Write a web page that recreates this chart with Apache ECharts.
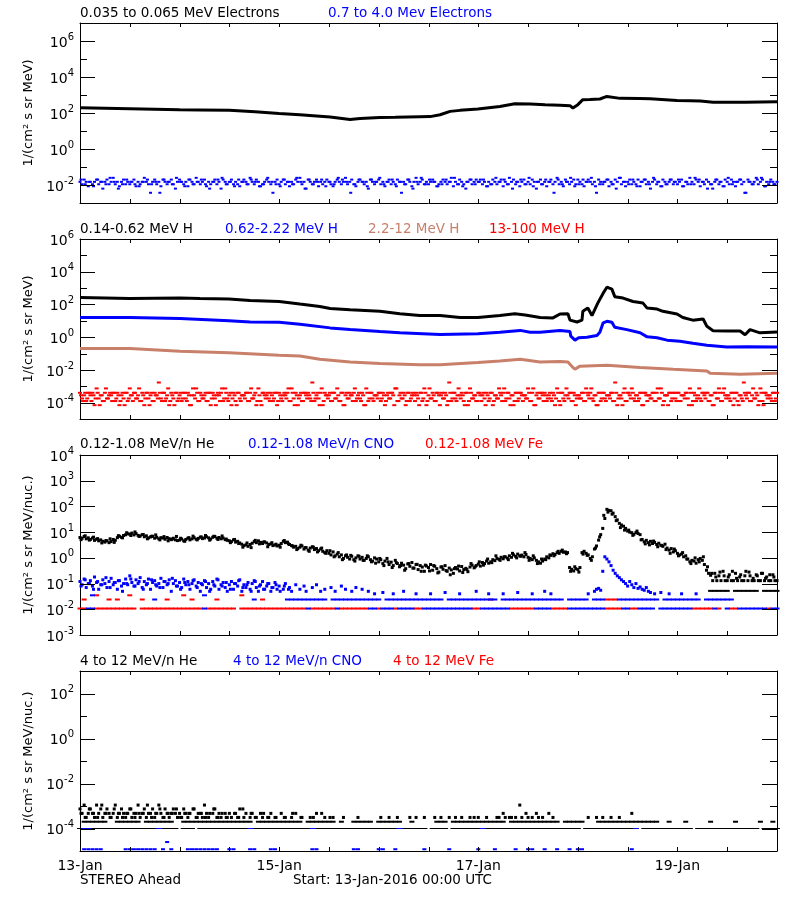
<!DOCTYPE html>
<html><head><meta charset="utf-8">
<script src="https://cdn.jsdelivr.net/npm/echarts@6/dist/echarts.min.js"></script>
<style>html,body{margin:0;padding:0;background:#fff}#c{width:800px;height:900px}</style>
</head><body><div id="c"></div>
<script>
const _ = null;
// ---------- labels ----------
const dayLabels = ['13-Jan','15-Jan','17-Jan','19-Jan'];
const xTickHours = [0,12,24,36,48,60,72,84,96,108,120,132,144,156,168];
const p1Titles = ['0.035 to 0.065 MeV Electrons','0.7 to 4.0 Mev Electrons'];
const p2Titles = ['0.14-0.62 MeV H','0.62-2.22 MeV H','2.2-12 MeV H','13-100 MeV H'];
const p3Titles = ['0.12-1.08 MeV/n He','0.12-1.08 MeV/n CNO','0.12-1.08 MeV Fe'];
const p4Titles = ['4 to 12 MeV/n He','4 to 12 MeV/n CNO','4 to 12 MeV Fe'];
const footLeft = 'STEREO Ahead';
const footMid = 'Start: 13-Jan-2016 00:00 UTC';
const yName1 = '1/(cm\u00b2 s sr MeV)';
const yName2 = '1/(cm\u00b2 s sr MeV/nuc.)';

// ---------- y tick decades ----------
const p1Decades = [1e-3,1e-2,1e-1,1,1e1,1e2,1e3,1e4,1e5,1e6,1e7];
const p1LabelDecades = [1e-2,1,1e2,1e4,1e6];
const p2Decades = [1e-5,1e-4,1e-3,1e-2,1e-1,1,1e1,1e2,1e3,1e4,1e5,1e6];
const p2LabelDecades = [1e-4,1e-2,1,1e2,1e4,1e6];
const p3Decades = [1e-3,1e-2,1e-1,1,1e1,1e2,1e3,1e4];
const p3LabelDecades = [1e-3,1e-2,1e-1,1,1e1,1e2,1e3,1e4];
const p4Decades = [1e-5,1e-4,1e-3,1e-2,1e-1,1,1e1,1e2,1e3];
const p4LabelDecades = [1e-4,1e-2,1,1e2];

// ---------- panel 1: electrons ----------
const p1BlackHours = [0,12,24,28.9,36,42.2,48,53,56.2,60.3,65.1,67.5,72.3,76,81.9,84.4,86.8,89.2,91.6,95.9,101.2,104.8,108.5,112.1,115.7,118.1,118.8,120,121.2,122.9,125.3,127,130.2,134.9,137.4,143.9,147,149.5,152.6,156.7,160.3,168];
const p1BlackVals = [195,173,152,148,140,118,95,80,71,60,44,50,57,58,62,63,80,123,140,166,232,330,315,290,270,255,190,290,550,560,600,835,650,640,620,500,480,465,390,392,390,425];
// half-hourly samples
const p1Blue = [
.015,.011,.02,.015,.0085,.015,.011,.015,.02,.011,.015,.0063,.015,.02,.011,.015,.025,.011,.015,.0085,.015,.02,.011,.015,
.011,.015,.02,.0085,.015,.011,.015,.025,.015,.011,.0037,.015,.02,.011,.015,.0085,.02,.015,.011,.015,.02,.011,.0063,.015,
.02,.015,.011,.015,.0085,.02,.015,.011,.025,.015,.011,.015,.02,.0085,.015,.011,.015,.02,.011,.015,.0063,.02,.015,.011,
.015,.02,.011,.015,.011,.0085,.015,.02,.015,.011,.025,.015,.011,.02,.015,.0085,.011,.015,.02,.015,.011,.0037,.015,.02,
.011,.015,.02,.011,.015,.0085,.015,.011,.02,.015,.025,.011,.015,.0063,.02,.015,.011,.015,.02,.0085,.015,.011,.015,.02,
.015,.011,.0085,.015,.02,.015,.011,.015,.025,.011,.015,.02,.011,.0085,.015,.02,.015,.011,.015,.0063,.02,.015,.011,.015,
.02,.011,.015,.0085,.015,.02,.011,.015,.011,.02,.015,.0037,.015,.011,.02,.015,.0085,.015,.025,.011,.015,.02,.011,.015,
.011,.015,.02,.015,.0085,.011,.015,.02,.015,.011,.015,.025,.0085,.015,.011,.02,.015,.011,.0063,.015,.02,.011,.015,.02,
.015,.02,.011,.015,.0085,.015,.011,.02,.015,.011,.015,.02,.0085,.015,.011,.025,.015,.02,.011,.015,.0085,.015,.02,.011,
.015,.011,.02,.015,.0063,.015,.02,.011,.015,.0085,.015,.02,.011,.015,.025,.011,.015,.0085,.02,.015,.011,.015,.02,.011,
.02,.015,.011,.0085,.015,.02,.015,.011,.015,.0037,.02,.015,.011,.015,.02,.0085,.015,.011,.02,.015,.025,.011,.015,.0085,
.015,.02,.011,.015,.011,.02,.0085,.015,.02,.011,.015,.0063,.015,.02,.011,.015,.0085,.02,.015,.011,.015,.02,.011,.015,
.011,.015,.02,.0085,.015,.011,.025,.015,.011,.02,.015,.0085,.015,.011,.02,.015,.011,.0063,.015,.02,.011,.015,.0085,.02,
.015,.011,.02,.015,.0085,.015,.02,.011,.015,.0037,.02,.015,.011,.015,.025,.011,.015,.02,.0085,.015,.011,.02,.015,.011,
.015];
// hourly samples, taken a quarter hour past
const p1BlueB = [
.02,.011,.015,.0085,.02,.015,.011,.025,.015,.0063,.011,.02,.015,.011,.0085,.015,.02,.011,.015,.0037,.02,.015,.011,.025,
.015,.0085,.02,.011,.015,.02,.011,.0063,.015,.02,.025,.011,.015,.0085,.02,.015,.011,.02,.015,.0085,.011,.025,.015,.011,
.0085,.02,.015,.011,.025,.015,.0063,.02,.011,.015,.02,.0085,.015,.011,.025,.02,.015,.0037,.011,.02,.015,.0085,.02,.015,
.025,.011,.015,.02,.0085,.015,.011,.02,.0063,.015,.025,.011,.02,.015,.0085,.011,.02,.015,.025,.011,.0085,.015,.02,.011,
.015,.02,.0085,.011,.025,.015,.02,.011,.0063,.015,.02,.011,.025,.0085,.015,.011,.02,.015,.0037,.02,.011,.015,.025,.0085,
.011,.02,.015,.025,.0085,.011,.015,.02,.011,.0063,.025,.015,.011,.02,.0085,.015,.02,.011,.025,.015,.0085,.011,.02,.015,
.02,.0085,.015,.011,.025,.02,.015,.0063,.011,.02,.015,.0085,.025,.011,.015,.02,.0037,.015,.011,.02,.025,.0085,.015,.011,
.02];

// ---------- panel 2: protons ----------
const p2BlackHours = [0,12,24.1,28.9,35.9,41,48,53,57.8,60.3,65.1,72.3,77.1,81.9,86.8,91.6,95.9,101.2,104.8,107.3,110.9,114,115.7,117.6,118.1,119.8,121,121.2,122.4,123.4,124.8,126.1,127,128.2,128.9,130.9,133.3,135.7,136.7,139.1,140.5,143.9,145.3,147.7,150.2,151.1,152.6,155.9,159.1,160.3,161.5,163.9,168];
const p2BlackVals = [265,230,245,230,213,174,152,105,76,57,48,38,27,21,21,16,16,21,27,23,16,15,26,27,11,8.5,11,38,60,21,121,490,1130,860,300,245,152,121,60,52,38,26,16,11,13,4.6,2.5,2.4,2.4,1.4,2.9,1.85,2.1];
const p2BlueHours = [0,12,24.1,35.9,41,48,53,60.3,65.1,72.3,77.1,86.8,95.9,101.2,106.1,108.5,110.9,115.7,118.1,118.3,119.3,120.2,122.2,124.6,125.3,126.1,127,128.2,128.9,131.8,135,136.7,139.1,141.5,144.6,147.7,151.1,155.9,160.7,168];
const p2BlueVals = [16,16,14,10,8.6,8.1,6.2,3.7,2.9,2.2,1.85,1.45,1.6,2.0,2.6,2.0,2.0,2.6,2.2,1.15,0.66,0.92,1.0,1.27,2.0,7.5,9.3,8.1,4,2.9,1.85,1.05,0.92,0.66,0.57,0.42,0.32,0.25,0.26,0.25];
const p2BrownHours = [0,12,24.1,35.9,48,53,57.8,65.1,72.3,81.9,86.8,95.9,101.2,106.1,110.9,115.7,117.6,118.6,119.3,120.5,127,135,143,151.1,151.9,159.1,168];
const p2BrownVals = [0.2,0.2,0.14,0.11,0.078,0.07,0.045,0.03,0.025,0.021,0.021,0.028,0.035,0.045,0.03,0.033,0.03,0.016,0.011,0.017,0.019,0.014,0.011,0.0087,0.0063,0.0055,0.0063];
// hourly samples at :00, :30, :15 and :45
const p2RedA = [
4e-4,2.8e-4,4e-4,4e-4,7.4e-4,2.8e-4,4e-4,2.8e-4,4e-4,4e-4,2.8e-4,4e-4,7.4e-4,4e-4,2.8e-4,4e-4,4e-4,2.8e-4,4e-4,1.7e-3,4e-4,2.8e-4,4e-4,4e-4,
2.8e-4,4e-4,4e-4,2.8e-4,7.4e-4,4e-4,2.8e-4,4e-4,4e-4,2.8e-4,4e-4,7.4e-4,2.8e-4,4e-4,4e-4,2.8e-4,4e-4,4e-4,2.8e-4,7.4e-4,4e-4,2.8e-4,4e-4,4e-4,
4e-4,2.8e-4,4e-4,7.4e-4,4e-4,2.8e-4,4e-4,4e-4,1.7e-3,2.8e-4,4e-4,4e-4,2.8e-4,4e-4,7.4e-4,4e-4,2.8e-4,4e-4,4e-4,2.8e-4,4e-4,7.4e-4,4e-4,2.8e-4,
4e-4,4e-4,2.8e-4,4e-4,7.4e-4,2.8e-4,4e-4,4e-4,2.8e-4,4e-4,4e-4,7.4e-4,2.8e-4,4e-4,4e-4,2.8e-4,4e-4,1.7e-3,4e-4,2.8e-4,4e-4,4e-4,7.4e-4,2.8e-4,
4e-4,2.8e-4,4e-4,4e-4,2.8e-4,7.4e-4,4e-4,4e-4,2.8e-4,4e-4,4e-4,2.8e-4,7.4e-4,4e-4,2.8e-4,4e-4,4e-4,2.8e-4,4e-4,7.4e-4,4e-4,2.8e-4,4e-4,4e-4,
2.8e-4,4e-4,7.4e-4,4e-4,2.8e-4,4e-4,4e-4,2.8e-4,4e-4,1.7e-3,2.8e-4,4e-4,4e-4,7.4e-4,2.8e-4,4e-4,4e-4,2.8e-4,4e-4,4e-4,7.4e-4,2.8e-4,4e-4,4e-4,
4e-4,2.8e-4,4e-4,7.4e-4,4e-4,2.8e-4,4e-4,4e-4,2.8e-4,4e-4,7.4e-4,4e-4,2.8e-4,4e-4,4e-4,2.8e-4,1.7e-3,4e-4,2.8e-4,4e-4,7.4e-4,4e-4,2.8e-4,4e-4,
4e-4];
const p2RedB = [
1.8e-4,1.25e-4,2.8e-4,7e-5,1.8e-4,1.25e-4,1.8e-4,2.8e-4,1.25e-4,7e-5,1.8e-4,1.25e-4,2.8e-4,1.8e-4,1.25e-4,7e-5,1.8e-4,1.25e-4,2.8e-4,1.8e-4,1.25e-4,7e-5,1.8e-4,1.25e-4,
1.25e-4,1.8e-4,7e-5,2.8e-4,1.25e-4,1.8e-4,1.25e-4,7e-5,1.8e-4,2.8e-4,1.25e-4,1.8e-4,7e-5,1.25e-4,1.8e-4,2.8e-4,1.25e-4,1.8e-4,7e-5,1.25e-4,2.8e-4,1.8e-4,1.25e-4,7e-5,
1.8e-4,2.8e-4,1.25e-4,1.8e-4,7e-5,1.25e-4,2.8e-4,1.8e-4,1.25e-4,1.8e-4,7e-5,2.8e-4,1.25e-4,1.8e-4,1.25e-4,7e-5,1.8e-4,2.8e-4,1.25e-4,1.8e-4,7e-5,1.25e-4,1.8e-4,2.8e-4,
1.25e-4,7e-5,1.8e-4,2.8e-4,1.25e-4,1.8e-4,7e-5,1.25e-4,2.8e-4,1.8e-4,1.25e-4,7e-5,1.8e-4,1.25e-4,2.8e-4,1.8e-4,7e-5,1.25e-4,1.8e-4,2.8e-4,1.25e-4,7e-5,1.8e-4,1.25e-4,
2.8e-4,1.8e-4,1.25e-4,7e-5,1.8e-4,2.8e-4,1.25e-4,1.8e-4,7e-5,1.25e-4,2.8e-4,1.8e-4,1.25e-4,7e-5,1.8e-4,2.8e-4,1.25e-4,1.8e-4,7e-5,1.25e-4,1.8e-4,2.8e-4,1.25e-4,7e-5,
1.8e-4,1.25e-4,2.8e-4,1.8e-4,7e-5,1.25e-4,1.8e-4,2.8e-4,1.25e-4,7e-5,1.8e-4,1.25e-4,2.8e-4,1.8e-4,1.25e-4,7e-5,2.8e-4,1.8e-4,1.25e-4,1.8e-4,7e-5,2.8e-4,1.25e-4,1.8e-4,
1.25e-4,2.8e-4,1.8e-4,7e-5,1.25e-4,1.8e-4,2.8e-4,1.25e-4,7e-5,1.8e-4,1.25e-4,2.8e-4,1.8e-4,7e-5,1.25e-4,1.8e-4,2.8e-4,1.25e-4,1.8e-4,7e-5,1.25e-4,2.8e-4,1.8e-4,1.25e-4,
1.8e-4];
const p2RedC = [
2.8e-4,4e-4,4e-4,2.8e-4,4e-4,2.8e-4,7.4e-4,4e-4,4e-4,2.8e-4,4e-4,4e-4,2.8e-4,4e-4,7.4e-4,2.8e-4,4e-4,4e-4,2.8e-4,4e-4,4e-4,7.4e-4,2.8e-4,4e-4,
4e-4,4e-4,2.8e-4,7.4e-4,4e-4,2.8e-4,4e-4,4e-4,2.8e-4,4e-4,7.4e-4,4e-4,4e-4,2.8e-4,4e-4,2.8e-4,4e-4,7.4e-4,4e-4,2.8e-4,4e-4,4e-4,2.8e-4,4e-4,
2.8e-4,4e-4,7.4e-4,4e-4,2.8e-4,4e-4,4e-4,2.8e-4,4e-4,4e-4,7.4e-4,2.8e-4,4e-4,4e-4,2.8e-4,4e-4,4e-4,2.8e-4,7.4e-4,4e-4,2.8e-4,4e-4,4e-4,2.8e-4,
4e-4,2.8e-4,4e-4,4e-4,7.4e-4,4e-4,2.8e-4,4e-4,4e-4,2.8e-4,4e-4,4e-4,7.4e-4,2.8e-4,4e-4,4e-4,2.8e-4,4e-4,4e-4,7.4e-4,2.8e-4,4e-4,4e-4,2.8e-4,
4e-4,4e-4,2.8e-4,4e-4,2.8e-4,4e-4,7.4e-4,4e-4,2.8e-4,4e-4,4e-4,2.8e-4,4e-4,7.4e-4,4e-4,4e-4,2.8e-4,4e-4,2.8e-4,4e-4,4e-4,7.4e-4,4e-4,2.8e-4,
2.8e-4,4e-4,4e-4,7.4e-4,2.8e-4,4e-4,4e-4,2.8e-4,4e-4,4e-4,2.8e-4,7.4e-4,4e-4,4e-4,2.8e-4,4e-4,4e-4,2.8e-4,4e-4,7.4e-4,4e-4,2.8e-4,4e-4,4e-4,
4e-4,2.8e-4,4e-4,4e-4,2.8e-4,7.4e-4,4e-4,4e-4,2.8e-4,4e-4,4e-4,7.4e-4,2.8e-4,4e-4,4e-4,2.8e-4,4e-4,4e-4,7.4e-4,2.8e-4,4e-4,4e-4,2.8e-4,4e-4,
2.8e-4];
const p2RedD = [
1.25e-4,1.8e-4,1.25e-4,1.8e-4,7e-5,1.25e-4,1.8e-4,1.25e-4,1.8e-4,1.25e-4,7e-5,1.8e-4,1.25e-4,1.8e-4,1.25e-4,1.8e-4,7e-5,1.25e-4,1.8e-4,1.25e-4,1.8e-4,1.25e-4,7e-5,1.8e-4,
1.8e-4,1.25e-4,7e-5,1.8e-4,1.25e-4,1.8e-4,1.25e-4,1.8e-4,7e-5,1.25e-4,1.8e-4,1.25e-4,1.8e-4,7e-5,1.25e-4,1.8e-4,1.25e-4,1.8e-4,1.25e-4,7e-5,1.8e-4,1.25e-4,1.8e-4,1.25e-4,
1.25e-4,1.8e-4,1.25e-4,7e-5,1.8e-4,1.25e-4,1.8e-4,1.25e-4,1.8e-4,7e-5,1.25e-4,1.8e-4,1.25e-4,1.8e-4,1.25e-4,7e-5,1.8e-4,1.25e-4,1.8e-4,1.25e-4,7e-5,1.8e-4,1.25e-4,1.8e-4,
1.8e-4,1.25e-4,1.8e-4,7e-5,1.25e-4,1.8e-4,1.25e-4,1.8e-4,1.25e-4,7e-5,1.8e-4,1.25e-4,1.8e-4,1.25e-4,7e-5,1.8e-4,1.25e-4,1.8e-4,1.25e-4,1.8e-4,7e-5,1.25e-4,1.8e-4,1.25e-4,
1.25e-4,7e-5,1.8e-4,1.25e-4,1.8e-4,1.25e-4,1.8e-4,7e-5,1.25e-4,1.8e-4,1.25e-4,1.8e-4,1.25e-4,7e-5,1.8e-4,1.25e-4,1.8e-4,1.25e-4,1.8e-4,7e-5,1.25e-4,1.8e-4,1.25e-4,1.8e-4,
1.8e-4,1.25e-4,1.8e-4,1.25e-4,7e-5,1.8e-4,1.25e-4,1.8e-4,1.25e-4,1.8e-4,7e-5,1.25e-4,1.8e-4,1.25e-4,1.8e-4,7e-5,1.25e-4,1.8e-4,1.25e-4,1.8e-4,1.25e-4,7e-5,1.8e-4,1.25e-4,
1.25e-4,1.8e-4,7e-5,1.25e-4,1.8e-4,1.25e-4,1.8e-4,1.25e-4,7e-5,1.8e-4,1.25e-4,1.8e-4,1.25e-4,1.8e-4,7e-5,1.25e-4,1.8e-4,1.25e-4,1.8e-4,1.25e-4,7e-5,1.8e-4,1.25e-4,1.8e-4,
1.25e-4];

// ---------- panel 3: 0.12-1.08 MeV/n heavy ions ----------
// He, half-hourly
const p3He = [
6.2,5.8,6.8,5.5,6.0,5.2,5.9,4.8,5.3,4.6,5.0,4.4,4.1,4.6,3.9,4.3,5.2,4.8,6.1,6.9,6.3,7.4,7.9,8.6,
8.4,9.2,7.8,8.8,7.5,7.1,8.0,6.6,7.2,6.0,6.5,6.9,5.8,6.3,5.5,6.1,5.9,5.3,6.2,5.6,5.1,5.8,5.0,4.7,
4.9,5.4,4.6,5.2,5.8,5.0,5.5,6.1,5.3,5.7,6.4,5.6,5.9,6.6,6.0,5.4,6.3,6.8,5.8,6.2,5.5,5.9,5.1,4.8,
4.6,4.3,5.0,4.1,4.4,3.8,3.4,3.0,3.2,2.8,3.3,3.7,4.3,3.9,4.6,4.0,3.6,4.2,3.8,3.3,3.5,3.0,3.2,2.9,
3.1,3.6,4.4,3.9,4.1,3.3,3.0,2.6,2.8,2.3,2.6,2.9,2.2,2.5,2.0,2.4,2.7,2.1,2.3,1.9,2.2,1.8,1.6,1.9,
1.5,1.3,1.7,1.2,1.4,1.1,1.3,0.95,1.2,1.05,0.9,1.15,0.85,1.0,1.2,0.9,1.05,0.8,0.95,1.1,0.85,0.75,1.0,0.9,
0.7,0.85,0.6,0.75,0.95,0.55,0.68,0.5,0.8,0.6,0.45,0.62,0.52,0.38,0.58,0.47,0.66,0.4,0.55,0.35,0.5,0.44,0.3,0.48,
0.42,0.55,0.33,0.47,0.38,0.28,0.44,0.36,0.5,0.3,0.4,0.34,0.25,0.42,0.37,0.31,0.46,0.35,0.39,0.29,0.44,0.52,0.41,0.5,
0.57,0.48,0.66,0.6,0.75,0.62,0.7,0.85,0.78,0.95,0.88,1.05,0.92,1.1,0.98,1.2,1.05,1.3,1.15,1.4,1.2,1.28,1.1,1.35,
1.05,0.95,0.85,1.0,0.8,0.7,0.62,0.75,0.9,1.1,1.0,1.25,1.45,1.35,1.6,1.5,1.8,1.65,1.7,1.6,0.42,0.36,0.31,0.38,
0.35,0.42,1.6,1.8,1.5,1.3,0.95,1.1,2.2,2.9,4.9,8,14,34,77,70,68,55,40,30,22,19,17,14,
11,10,9.5,8.2,9.6,8.9,8.0,5.2,4.2,4.8,3.9,4.4,3.6,4.0,3.3,3.7,3.1,2.8,3.4,2.4,2.0,2.3,1.7,1.9,
1.5,1.3,1.4,1.1,1.2,0.9,0.7,0.8,0.75,0.62,0.85,0.95,0.8,0.55,0.33,0.25,0.21,0.13,0.25,0.13,0.2,0.13,0.3,0.13,
0.13,0.22,0.13,0.13,0.25,0.13,0.18,0.13,0.13,0.3,0.13,0.2,0.13,0.13,0.22,0.13,0.13,0.25,0.13,0.18,0.13,0.13,0.22,0.13,
0.13];
// He, hourly at a quarter past (extra spread of the cloud)
const p3HeB = [
5.1,7.2,4.9,6.4,5.6,3.8,4.7,5.5,4.0,7.3,6.0,9.5,
7.4,10.2,6.8,8.1,5.5,6.9,7.8,5.0,6.7,4.6,5.4,6.8,
5.8,4.4,6.1,7.0,5.0,6.5,7.4,4.9,6.9,5.2,7.1,5.4,
3.9,5.2,3.6,2.6,3.8,2.5,4.8,3.5,4.1,2.7,3.9,3.4,
2.6,4.7,3.5,2.9,2.1,3.1,2.5,1.8,2.6,1.7,2.4,1.5,
1.9,1.1,1.6,0.85,1.3,1.25,0.75,1.15,0.8,1.2,0.7,0.62,
0.95,0.5,0.7,0.42,0.65,0.5,0.33,0.6,0.4,0.56,0.3,0.52,
0.31,0.5,0.26,0.45,0.32,0.22,0.38,0.48,0.27,0.35,0.6,0.45,
0.7,0.52,0.9,0.65,1.2,0.8,1.1,0.85,1.5,1.0,1.15,1.6,
0.8,1.2,0.6,0.9,0.85,1.3,1.2,1.8,2.0,1.45,0.3,0.45,
0.28,1.4,1.25,0.8,2.4,6.5,45,60,50,28,15,12,
12,7.5,11,5.0,3.5,3.2,4.5,2.7,3.0,2.1,1.5,2.2,
1.2,1.6,0.9,0.6,1.0,0.7,1.1,0.45,0.25,0.18,0.28,0.2,
0.18,0.3,0.16,0.22,0.2,0.28,0.16,0.2,0.25,0.16,0.22,0.18,0.2];
const p3HeTailHours = [152,153,154,155,156,158,159,160,161,162,163,165,166,167,168];
const p3HeTailVals = [.052,.052,.052,.052,.052,.052,.052,.052,.052,.052,.052,.052,.052,.052,.052];
// CNO, half-hourly
const p3Cno = [
.12,.09,.15,.07,.1,.13,.08,.18,.11,.06,.09,.14,.1,.07,.12,.16,.09,.11,.06,.13,.08,.1,.15,.09,
.2,.11,.08,.14,.1,.17,.07,.12,.09,.15,.06,.11,.13,.08,.1,.16,.07,.12,.09,.14,.05,.1,.13,.08,
.11,.07,.15,.09,.12,.06,.1,.14,.08,.11,.05,.09,.13,.07,.1,.06,.12,.08,.15,.06,.09,.11,.07,.05,
.09,.12,.06,.1,.08,.14,.05,.09,.07,.11,.06,.1,.13,.07,.05,.09,.12,.06,.08,.1,.05,.07,.11,.06,
.08,_,.06,.1,_,.07,.05,_,.09,_,.06,_,.08,.05,_,_,.07,_,.09,_,.05,_,.06,_,
_,.07,_,.05,_,_,.08,_,.06,_,_,.05,_,.07,_,_,.06,_,_,.05,_,_,.04,_,
_,_,.045,_,_,_,_,.04,_,_,_,_,.05,_,_,_,_,_,.04,_,_,_,_,_,
_,.04,_,_,_,_,_,_,.045,_,_,_,_,_,_,.04,_,_,_,_,_,_,_,.05,
_,_,_,_,_,.04,_,_,_,_,_,_,.04,_,_,_,_,_,_,.045,_,_,_,_,
_,_,.04,_,_,_,_,_,.05,_,_,.04,_,_,_,_,_,_,_,_,_,_,_,_,
_,_,_,_,_,.04,_,_,.05,.06,.065,.055,.3,1.1,.9,.7,.5,.33,.25,.2,.17,.14,.12,.1,
.08,.12,.09,.07,.1,.065,.074,.06,.055,.07,.05,.045,_,.04,_,_,.045,_,_,_,.04,_,_,_,
_,_,.04,_,_,_,_,_,_,.04];
// CNO, hourly at a quarter past (first 50 hours)
const p3CnoB = [
.08,.14,.1,.06,.12,.09,.17,.07,.11,.13,.05,.1,.15,.08,.12,.06,.1,.14,.09,.07,.12,.1,.16,.08,
.06,.11,.09,.13,.07,.1,.12,.05,.09,.14,.08,.11,.06,.1,.13,.07,.09,.05,.12,.08,.06,.1,.07,.09,
.05,.08,.06];
// hourly rows (Fe red / CNO blue)
const p3FeLow = [
.0107,.0107,_,_,.0107,.0107,.0107,.0107,.0107,.0107,.0107,.0107,.0107,.0107,_,.0107,.0107,.0107,.0107,.0107,.0107,.0107,.0107,.0107,
.0107,.0107,.0107,.0107,.0107,.0107,_,.0107,.0107,.0107,.0107,.0107,.0107,.0107,_,.0107,.0107,.0107,.0107,.0107,.0107,.0107,.0107,.0107,
.0107,.0107,.0107,.0107,.0107,.0107,.0107,_,.0107,.0107,.0107,.0107,.0107,.0107,_,.0107,.0107,.0107,.0107,.0107,.0107,.0107,_,_,
.0107,_,_,_,.0107,_,_,_,_,.0107,.0107,_,_,_,_,_,_,_,_,_,_,_,_,.0107,
.0107,_,_,_,_,_,_,_,.0107,.0107,.0107,.0107,.0107,.0107,_,_,_,_,.0107,.0107,.0107,.0107,_,_,
_,_,_,_,_,_,_,.0107,.0107,.0107,.0107,_,_,.0107,.0107,_,_,_,_,_,_,_,_,_,
_,_,_,_,.0107,.0107,.0107,.0107,.0107,_,.0107,_,_,.0107,.0107,_,_,_,_,_,_,_,.0107,_,_];
const p3CnoLow = [
_,_,.0107,.0107,_,_,_,_,_,_,_,_,_,_,_,_,_,_,_,_,_,_,_,_,
_,_,_,_,_,_,.0107,_,_,_,_,_,_,_,_,_,_,_,_,_,_,_,_,_,
_,_,_,_,_,_,_,.0107,_,_,_,_,_,_,.0107,_,_,_,_,_,_,_,.0107,.0107,
_,.0107,.0107,.0107,_,.0107,.0107,.0107,.0107,_,_,.0107,.0107,.0107,.0107,.0107,.0107,.0107,.0107,.0107,.0107,.0107,.0107,_,
_,.0107,.0107,.0107,.0107,.0107,.0107,.0107,_,_,_,_,_,_,.0107,.0107,.0107,.0107,_,_,_,_,.0107,.0107,
.0107,.0107,.0107,.0107,.0107,.0107,.0107,_,_,_,_,.0107,.0107,_,_,.0107,.0107,.0107,.0107,_,.0107,.0107,.0107,.0107,
.0107,.0107,.0107,.0107,_,_,_,_,_,.0107,_,_,.0107,_,_,.0107,.0107,.0107,.0107,.0107,.0107,.0107,_,.0107,.0107];
const p3FeMid = [
_,.024,_,_,.035,_,_,.024,_,.024,_,_,.035,_,_,.024,_,_,_,_,_,.024,_,_,
_,.035,_,.024,_,_,_,_,_,.024,_,_,_,_,_,.035,_,_,_,_,.024,_,_,_,
_,_,_,_,_,_,_,_,_,_,_,_,_,_,_,_,_,_,_,_,_,_,_,_,
_,_,_,_,_,_,_,_,_,_,_,_,_,_,_,_,_,_,_,_,_,_,_,_,
_,_,_,.024,_,_,_,_,_,_,_,_,_,_,_,_,_,_,_,_,_,_,_,_,
_,_,_,_,_,_,_,.024,.024,.024];
const p3CnoMid = [
_,_,_,.035,_,_,_,_,_,_,_,_,_,_,_,_,_,_,.024,_,_,_,_,_,
_,_,_,_,_,_,.035,_,_,_,_,_,_,_,_,_,_,_,.024,_,_,_,_,_,
_,_,.024,.024,.024,.024,.024,.024,.024,.024,.024,.024,_,.024,.024,.024,.024,.024,.024,.024,.024,.024,.024,.024,
.024,_,.024,.024,.024,.024,.024,.024,.024,.024,.024,.024,.024,.024,.024,.024,_,.024,.024,.024,.024,.024,.024,.024,
.024,.024,.024,.024,.024,_,.024,.024,.024,.024,.024,.024,.024,.024,.024,.024,.024,.024,.024,.024,.024,_,.024,.024,
.024,.024,.024,_,.024,.024,.024,_,_,_,.024,.024,.024,.024,.024,.024,.024,.024,.024,.024,_,.024,.024,.024,
.024,.024,.024,.024,.024,.024,_,.024,.024,.024,.024,.024,.024,.024];

// ---------- panel 4: 4-12 MeV/n heavy ions ----------
// He, half-hourly
const p4HeA = [
7.4e-4,4.7e-4,1.1e-3,3.1e-4,4.7e-4,7.4e-4,4.7e-4,3.1e-4,1.1e-3,4.7e-4,7.4e-4,3.1e-4,4.7e-4,7.4e-4,4.7e-4,3.1e-4,4.7e-4,1.1e-3,3.1e-4,4.7e-4,7.4e-4,4.7e-4,3.1e-4,4.7e-4,
7.4e-4,3.1e-4,4.7e-4,4.7e-4,1.1e-3,3.1e-4,4.7e-4,7.4e-4,3.1e-4,4.7e-4,4.7e-4,7.4e-4,3.1e-4,4.7e-4,1.1e-3,4.7e-4,3.1e-4,7.4e-4,4.7e-4,3.1e-4,4.7e-4,7.4e-4,4.7e-4,3.1e-4,
4.7e-4,3.1e-4,7.4e-4,4.7e-4,3.1e-4,4.7e-4,_,7.4e-4,3.1e-4,4.7e-4,4.7e-4,3.1e-4,1.1e-3,4.7e-4,3.1e-4,_,4.7e-4,7.4e-4,3.1e-4,4.7e-4,3.1e-4,_,4.7e-4,3.1e-4,
4.7e-4,3.1e-4,_,4.7e-4,3.1e-4,7.4e-4,_,3.1e-4,4.7e-4,_,3.1e-4,4.7e-4,_,3.1e-4,_,4.7e-4,3.1e-4,_,_,3.1e-4,4.7e-4,_,3.1e-4,_,
_,4.7e-4,_,3.1e-4,_,_,3.1e-4,_,4.7e-4,_,_,3.1e-4,_,_,_,3.1e-4,_,_,4.7e-4,_,_,_,3.1e-4,_,
_,_,3.1e-4,_,_,_,_,3.1e-4,_,_,_,_,_,_,3.1e-4,_,_,_,_,_,_,_,_,_,
_,3.1e-4,_,_,_,3.1e-4,_,_,_,3.1e-4,_,_,_,_,_,3.1e-4,_,_,3.1e-4,_,_,_,3.1e-4,_,
_,_,_,3.1e-4,_,_,3.1e-4,_,_,_,3.1e-4,_,_,3.1e-4,_,_,3.1e-4,_,_,_,3.1e-4,_,3.1e-4,_,
3.1e-4,_,_,_,3.1e-4,_,_,_,_,3.1e-4,3.1e-4,_,4.7e-4,3.1e-4,_,3.1e-4,3.1e-4,_,3.1e-4,_,1.1e-3,3.1e-4,_,4.7e-4,
3.1e-4,_,3.1e-4,_,4.7e-4,3.1e-4,_,3.1e-4,_,_,4.7e-4,_,3.1e-4,_,_,_,_,_,_,_,_,_,_,_,
_,_,_,_,_,3.1e-4,_,_,_,3.1e-4,_,_,3.1e-4,_,_,_,3.1e-4,_,_,_,3.1e-4,_,_,_,
_,_,4.7e-4];
// He, hourly at a quarter past (first 60 hours)
const p4HeC = [
4.7e-4,3.1e-4,7.4e-4,4.7e-4,3.1e-4,1.1e-3,4.7e-4,3.1e-4,7.4e-4,4.7e-4,3.1e-4,4.7e-4,7.4e-4,3.1e-4,4.7e-4,4.7e-4,1.1e-3,3.1e-4,4.7e-4,7.4e-4,3.1e-4,4.7e-4,4.7e-4,7.4e-4,
3.1e-4,4.7e-4,4.7e-4,7.4e-4,3.1e-4,4.7e-4,3.1e-4,4.7e-4,7.4e-4,3.1e-4,4.7e-4,3.1e-4,_,4.7e-4,3.1e-4,7.4e-4,_,4.7e-4,3.1e-4,_,4.7e-4,3.1e-4,_,3.1e-4,
_,3.1e-4,_,4.7e-4,_,3.1e-4,_,_,3.1e-4,_,4.7e-4,_,3.1e-4];
// He, hourly
const p4HeB = [
_,2e-4,2e-4,2e-4,2e-4,2e-4,2e-4,_,_,2e-4,2e-4,2e-4,2e-4,2e-4,2e-4,_,2e-4,2e-4,2e-4,2e-4,2e-4,2e-4,2e-4,_,
_,2e-4,2e-4,2e-4,2e-4,2e-4,2e-4,2e-4,2e-4,2e-4,2e-4,2e-4,2e-4,2e-4,2e-4,2e-4,2e-4,2e-4,_,2e-4,2e-4,2e-4,2e-4,2e-4,
2e-4,2e-4,2e-4,2e-4,2e-4,2e-4,_,2e-4,2e-4,2e-4,2e-4,2e-4,2e-4,2e-4,_,2e-4,_,_,2e-4,2e-4,2e-4,2e-4,2e-4,_,
2e-4,2e-4,2e-4,2e-4,2e-4,2e-4,_,_,2e-4,_,_,_,_,_,2e-4,2e-4,2e-4,_,2e-4,2e-4,2e-4,2e-4,2e-4,2e-4,
2e-4,2e-4,2e-4,2e-4,2e-4,2e-4,2e-4,_,2e-4,2e-4,2e-4,2e-4,2e-4,2e-4,2e-4,2e-4,2e-4,2e-4,2e-4,2e-4,_,2e-4,2e-4,2e-4,
2e-4,2e-4,_,_,_,2e-4,2e-4,2e-4,2e-4,2e-4,2e-4,2e-4,2e-4,2e-4,2e-4,2e-4,2e-4,2e-4,2e-4,2e-4,_,_,2e-4,_,
_,_,2e-4,_,_,_,_,_,2e-4,_,_,_,_,_,2e-4,_,_,_,_,_,2e-4,_,_,2e-4,_];
const p4HeRow = [
1e-4,1e-4,1e-4,1e-4,1e-4,1e-4,1e-4,1e-4,1e-4,1e-4,1e-4,1e-4,1e-4,1e-4,1e-4,1e-4,1e-4,1e-4,1e-4,1e-4,1e-4,1e-4,1e-4,1e-4,
_,1e-4,1e-4,1e-4,_,1e-4,1e-4,1e-4,1e-4,1e-4,1e-4,1e-4,1e-4,1e-4,1e-4,1e-4,1e-4,1e-4,1e-4,1e-4,1e-4,1e-4,1e-4,1e-4,
1e-4,1e-4,1e-4,1e-4,1e-4,1e-4,1e-4,1e-4,1e-4,1e-4,1e-4,1e-4,1e-4,1e-4,1e-4,1e-4,1e-4,1e-4,1e-4,1e-4,1e-4,1e-4,1e-4,1e-4,
1e-4,1e-4,1e-4,1e-4,1e-4,1e-4,1e-4,1e-4,1e-4,1e-4,1e-4,1e-4,_,1e-4,1e-4,1e-4,1e-4,_,1e-4,1e-4,1e-4,1e-4,1e-4,1e-4,
1e-4,1e-4,1e-4,1e-4,1e-4,1e-4,1e-4,1e-4,1e-4,1e-4,1e-4,1e-4,1e-4,1e-4,1e-4,1e-4,1e-4,1e-4,1e-4,1e-4,1e-4,1e-4,1e-4,1e-4,
1e-4,_,1e-4,1e-4,1e-4,1e-4,1e-4,1e-4,1e-4,1e-4,1e-4,1e-4,1e-4,1e-4,1e-4,_,1e-4,1e-4,1e-4,1e-4,1e-4,1e-4,1e-4,1e-4,
1e-4,1e-4,1e-4,1e-4,_,1e-4,1e-4,1e-4,1e-4,1e-4,1e-4,1e-4,1e-4,1e-4,1e-4,1e-4,1e-4,1e-4,1e-4,1e-4,_,1e-4,1e-4,1e-4,1e-4];
const p4CnoRowHours = [1,2,19,41,56,77,97,134];
const p4CnoRowVals = [1e-4,1e-4,1e-4,1e-4,1e-4,1e-4,1e-4,1e-4];
// CNO, hourly
const p4CnoLow = [
_,1.2e-5,1.2e-5,1.2e-5,1.2e-5,1.2e-5,_,_,_,_,_,1.2e-5,1.2e-5,1.2e-5,1.2e-5,1.2e-5,1.2e-5,1.2e-5,1.2e-5,_,1.2e-5,2.5e-5,1.2e-5,_,
_,_,1.2e-5,1.2e-5,1.2e-5,1.2e-5,1.2e-5,1.2e-5,1.2e-5,1.2e-5,_,_,1.2e-5,1.2e-5,_,_,_,1.2e-5,1.2e-5,_,_,_,1.2e-5,1.2e-5,
_,_,_,_,_,_,_,_,1.2e-5,1.2e-5,_,_,_,_,_,_,_,_,1.2e-5,1.2e-5,_,_,_,_,
1.2e-5,1.2e-5,_,_,1.2e-5,_,_,_,_,_,_,1.2e-5,_,_,_,_,_,1.2e-5,_,_,_,_,_,_,
1.2e-5,_,_,_,1.2e-5,_,_,_,_,1.2e-5,_,_,1.2e-5,1.2e-5,_,_,1.2e-5,_,_,1.2e-5,_,_,1.2e-5,_,
1.2e-5,1.2e-5,_,_,_,_,_,_,_,_,_,_,_,1.2e-5];

// ---------- styling ----------
const FONT = 'DejaVu Sans';
const BLACK = '#000000', BLUE = '#0000ff', RED = '#ff0000', BROWN = '#c8806a';
const GRID_TOPS = [23, 239, 455, 671];
const GRID_H = 180;
const Y_RANGES = [[1e-3,1e7],[1e-5,1e6],[1e-3,1e4],[1e-5,1e3]];
const decades = [p1Decades, p2Decades, p3Decades, p4Decades];
const labelDecades = [p1LabelDecades, p2LabelDecades, p3LabelDecades, p4LabelDecades];
const yNames = [yName1, yName1, yName2, yName2];

function halfHourly(vals){ return vals.map((v,i)=>[i*0.5, v]).filter(p=>p[1]!==null); }
function hourly(vals, off){ return vals.map((v,i)=>[i+(off||0), v]).filter(p=>p[1]!==null); }
function pairs(h, v){ return h.map((x,i)=>[x, v[i]]); }

const grid = GRID_TOPS.map(t => ({left:80, width:697, top:t, height:GRID_H, containLabel:false}));

const xAxis = [];
GRID_TOPS.forEach((t, gi) => {
  ['bottom','top'].forEach(pos => {
    xAxis.push({
      type:'value', gridIndex:gi, min:0, max:168, interval:12, position:pos,
      axisLine:{show:true, onZero:false, lineStyle:{color:BLACK, width:1}},
      axisTick:{show:false},
      axisLabel:{show: gi===3 && pos==='bottom', color:BLACK, fontFamily:FONT, fontSize:14, margin:8,
        formatter: v => (v % 48 === 0 ? dayLabels[v/48] : '')},
      splitLine:{show:false}
    });
  });
});

const yAxis = [];
GRID_TOPS.forEach((t, gi) => {
  const [mn, mx] = Y_RANGES[gi];
  const base = {type:'log', logBase:10, gridIndex:gi, min:mn, max:mx, splitLine:{show:false}, minorTick:{show:false}, axisTick:{show:false}};
  yAxis.push(Object.assign({}, base, {
    position:'left',
    axisLine:{show:true, onZero:false, lineStyle:{color:BLACK, width:1}},
    axisLabel:{show:true, customValues:labelDecades[gi], margin:6,
      formatter: v => '{b|10}{e|' + Math.round(Math.log10(v)) + '}',
      rich:{ b:{fontFamily:FONT, fontSize:14, color:BLACK, lineHeight:18, verticalAlign:'bottom'},
             e:{fontFamily:FONT, fontSize:10, color:BLACK, lineHeight:18, verticalAlign:'top'} }},
    name: yNames[gi], nameLocation:'middle', nameRotate:90, nameGap:34,
    nameTextStyle:{fontFamily:FONT, fontSize:13, color:BLACK}
  }));
  yAxis.push(Object.assign({}, base, {
    position:'right', axisLine:{show:true, onZero:false, lineStyle:{color:BLACK, width:1}}, axisLabel:{show:false}
  }));
});

// inward ticks on all four sides, placed through the axes' own scales
function tickSeries(gi){
  const [mn, mx] = Y_RANGES[gi];
  const items = [];
  xTickHours.forEach(h => items.push([h, mn, 0, 4]));
  decades[gi].forEach(v => items.push([0, v, 1, gi === 2 ? 15 : 7]));
  labelDecades[gi].forEach(v => items.push([0, v, 1, 15]));
  return {
    type:'custom', xAxisIndex:gi*2, yAxisIndex:gi*2, silent:true, clip:false, animation:false, z:5,
    encode:{x:0, y:1}, data:items,
    renderItem(params, api){
      const kind = api.value(2), len = api.value(3);
      const st = {stroke:BLACK, lineWidth:1};
      if (kind === 0) {
        const h = api.value(0);
        const b = api.coord([h, mn]), t = api.coord([h, mx]);
        const x = Math.round(b[0]) + 0.5;
        return {type:'group', children:[
          {type:'line', shape:{x1:x, y1:b[1], x2:x, y2:b[1]-len}, style:st},
          {type:'line', shape:{x1:x, y1:t[1], x2:x, y2:t[1]+len}, style:st}]};
      }
      const v = api.value(1);
      const l = api.coord([0, v]), r = api.coord([168, v]);
      const y = Math.round(l[1]) + 0.5;
      return {type:'group', children:[
        {type:'line', shape:{x1:l[0], y1:y, x2:l[0]+len, y2:y}, style:st},
        {type:'line', shape:{x1:r[0], y1:y, x2:r[0]-len, y2:y}, style:st}]};
    }
  };
}

function sc(gi, data, color, size){
  return {type:'scatter', xAxisIndex:gi*2, yAxisIndex:gi*2, data, symbol:'rect', symbolSize:size,
    itemStyle:{color, opacity:1}, silent:true, animation:false};
}
function ln(gi, data, color){
  return {type:'line', xAxisIndex:gi*2, yAxisIndex:gi*2, data, showSymbol:false, symbol:'none',
    lineStyle:{color, width:3}, silent:true, animation:false};
}

const series = [
  // panel 1
  sc(0, halfHourly(p1Blue), BLUE, [3,2]),
  sc(0, hourly(p1BlueB, 0.25), BLUE, [3,2]),
  ln(0, pairs(p1BlackHours, p1BlackVals), BLACK),
  // panel 2
  sc(1, hourly(p2RedA, 0), RED, [4,2]),
  sc(1, hourly(p2RedB, 0.5), RED, [4,2]),
  sc(1, hourly(p2RedC, 0.25), RED, [4,2]),
  sc(1, hourly(p2RedD, 0.75), RED, [4,2]),
  ln(1, pairs(p2BrownHours, p2BrownVals), BROWN),
  ln(1, pairs(p2BlueHours, p2BlueVals), BLUE),
  ln(1, pairs(p2BlackHours, p2BlackVals), BLACK),
  // panel 3
  sc(2, hourly(p3FeLow), RED, [5,2]),
  sc(2, hourly(p3CnoLow), BLUE, [5,2]),
  sc(2, hourly(p3FeMid), RED, [5,2]),
  sc(2, hourly(p3CnoMid), BLUE, [5,2]),
  sc(2, halfHourly(p3Cno), BLUE, [3,3]),
  sc(2, hourly(p3CnoB, 0.25), BLUE, [3,3]),
  sc(2, pairs(p3HeTailHours, p3HeTailVals), BLACK, [5,2]),
  sc(2, halfHourly(p3He), BLACK, [3,3]),
  sc(2, hourly(p3HeB, 0.25), BLACK, [3,3]),
  // panel 4
  sc(3, hourly(p4HeRow), BLACK, [6,1]),
  sc(3, pairs(p4CnoRowHours, p4CnoRowVals), BLUE, [6,1]),
  sc(3, hourly(p4CnoLow), BLUE, [4,2]),
  sc(3, hourly(p4HeB), BLACK, [5,2]),
  sc(3, halfHourly(p4HeA), BLACK, [3,3]),
  sc(3, hourly(p4HeC, 0.25), BLACK, [3,3]),
  // ticks
  tickSeries(0), tickSeries(1), tickSeries(2), tickSeries(3)
];

function txt(str, left, top, color){
  return {type:'text', left, top, silent:true,
    style:{text:str, fill:color, font:'13.5px "' + FONT + '"'}};
}
const graphic = [
  txt(p1Titles[0], 80, 6, BLACK), txt(p1Titles[1], 328, 6, BLUE),
  txt(p2Titles[0], 80, 222, BLACK), txt(p2Titles[1], 225, 222, BLUE), txt(p2Titles[2], 368, 222, BROWN), txt(p2Titles[3], 489, 222, RED),
  txt(p3Titles[0], 80, 437, BLACK), txt(p3Titles[1], 248, 437, BLUE), txt(p3Titles[2], 425, 437, RED),
  txt(p4Titles[0], 80, 654, BLACK), txt(p4Titles[1], 233, 654, BLUE), txt(p4Titles[2], 393, 654, RED),
  txt(footLeft, 80, 873, BLACK), txt(footMid, 293, 873, BLACK)
];

const chart = echarts.init(document.getElementById('c'), null, {renderer:'canvas'});
chart.setOption({animation:false, backgroundColor:'#ffffff', grid, xAxis, yAxis, series, graphic});
</script>
</body></html>
